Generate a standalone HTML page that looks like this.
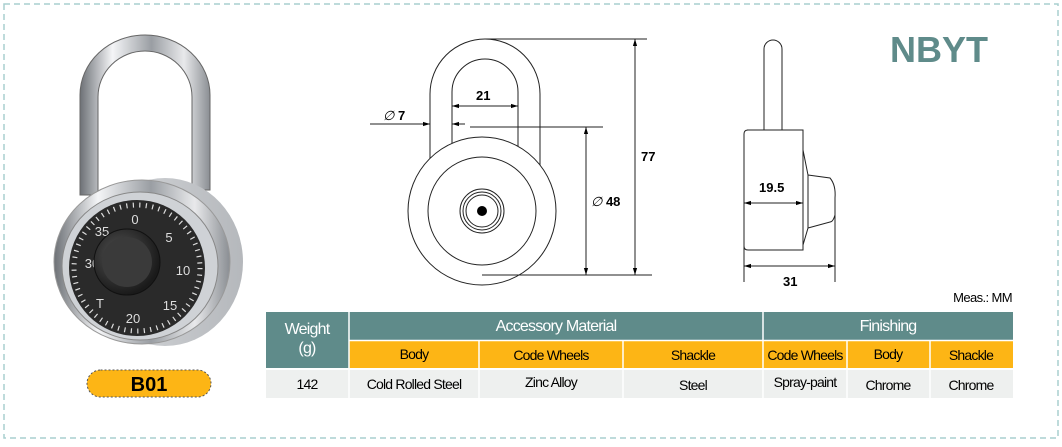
<!DOCTYPE html>
<html><head><meta charset="utf-8"><style>
html,body{margin:0;padding:0;background:#fff;}
body{width:1062px;height:442px;overflow:hidden;position:relative;font-family:"Liberation Sans",Arial,sans-serif;}
</style></head><body>
<svg width="1062" height="442" viewBox="0 0 1062 442" xmlns="http://www.w3.org/2000/svg" font-family="Liberation Sans, Arial, sans-serif">
<defs>
<linearGradient id="chr" x1="0" x2="1"><stop offset="0" stop-color="#6d7176"/><stop offset="0.25" stop-color="#f4f5f7"/><stop offset="0.55" stop-color="#9a9ea3"/><stop offset="0.8" stop-color="#e8e9eb"/><stop offset="1" stop-color="#8a8e93"/></linearGradient>
<linearGradient id="cyl" x1="0" x2="1"><stop offset="0" stop-color="#d8dadd"/><stop offset="1" stop-color="#b5b8bc"/></linearGradient>
<radialGradient id="knob" cx="0.4" cy="0.4" r="0.6"><stop offset="0" stop-color="#555"/><stop offset="1" stop-color="#1a1a1a"/></radialGradient>
<marker id="ar" viewBox="0 0 10 10" refX="10" refY="5" markerWidth="7" markerHeight="7" orient="auto-start-reverse"><path d="M0,2 L10,5 L0,8z" fill="#000"/></marker>
</defs>
<rect x="4" y="4" width="1054" height="434" fill="none" stroke="#a9cfcf" stroke-width="1.5" stroke-dasharray="6,4"/>

<!-- lock photo -->
<path d="M80,195 L80,95 A65,60 0 0 1 210,95 L210,190 L192,190 L192,97 A47,46 0 0 0 98,97 L98,195z" fill="url(#chr)" stroke="#666" stroke-width="1"/>
<ellipse cx="165" cy="262" rx="78" ry="84" fill="url(#cyl)"/>
<ellipse cx="142" cy="262" rx="88" ry="82" fill="url(#chr)" stroke="#999"/>
<ellipse cx="140" cy="266" rx="78" ry="74" fill="#cfd2d6" stroke="#888"/>
<circle cx="137" cy="268" r="68" fill="#2a2a2a"/>
<circle cx="137" cy="268" r="63" fill="none" stroke="#ddd" stroke-width="5" stroke-dasharray="1.2,5.3"/>
<g fill="#ddd" font-size="13" text-anchor="middle">
<text x="135" y="224">0</text><text x="169" y="242">5</text><text x="183" y="275">10</text><text x="170" y="310">15</text><text x="133" y="323">20</text><text x="100" y="308">T</text><text x="92" y="268">30</text><text x="102" y="236">35</text></g>
<circle cx="127" cy="262" r="33" fill="url(#knob)" stroke="#111"/>
<circle cx="127" cy="262" r="25" fill="#3a3a3a"/>
<rect x="87" y="370" width="124" height="27" rx="13.5" fill="#fdb515" stroke="#555" stroke-dasharray="2,2"/>
<text x="149" y="391" font-size="20" font-weight="bold" text-anchor="middle">B01</text>

<!-- front view -->
<g fill="none" stroke="#222" stroke-width="1">
<path d="M430,165 L430,94 A55,55 0 0 1 540,94 L540,165"/>
<path d="M452,150 L452,92 A33,33 0 0 1 518,92 L518,150"/>
<circle cx="482" cy="211" r="74" fill="#fff"/>
<circle cx="482" cy="211" r="54"/>
<circle cx="482" cy="211" r="22"/><circle cx="482" cy="211" r="19"/><circle cx="482" cy="211" r="16"/>
<line x1="485" y1="39" x2="647" y2="39"/><line x1="482" y1="275" x2="652" y2="275"/>
<line x1="470" y1="127" x2="603" y2="127"/>
<line x1="635" y1="39" x2="635" y2="275" marker-start="url(#ar)" marker-end="url(#ar)"/>
<line x1="586" y1="127" x2="586" y2="275" marker-start="url(#ar)" marker-end="url(#ar)"/>
<line x1="452" y1="106" x2="518" y2="106" marker-start="url(#ar)" marker-end="url(#ar)"/>
<line x1="370" y1="124" x2="430" y2="124" marker-end="url(#ar)"/>
<line x1="452" y1="124" x2="465" y2="124"/>
<line x1="465" y1="124" x2="452" y2="124" marker-end="url(#ar)"/>
</g>
<circle cx="482" cy="211" r="5" fill="#000"/>

<!-- side view -->
<g fill="none" stroke="#222" stroke-width="1">
<path d="M764,130 L764,49 A9,9 0 0 1 782,49 L782,130"/>
<path d="M747,130 L803,130 L803,250 L748,250 Q744,250 744,246 L744,134 Q744,130 748,130z" fill="#fff"/>
<path d="M803,150 L808,175 L808,228 L803,245"/>
<path d="M808,175 L830,178 Q836,185 835,198 L835,215 Q833,222 830,222 L808,228"/>
<line x1="744" y1="238" x2="744" y2="282"/><line x1="835" y1="200" x2="835" y2="282"/>
<line x1="744" y1="203" x2="803" y2="203" marker-start="url(#ar)" marker-end="url(#ar)"/>
<line x1="744" y1="266" x2="835" y2="266" marker-start="url(#ar)" marker-end="url(#ar)"/>
</g>
<g font-size="13" font-weight="bold">
<text x="476" y="100">21</text><text x="641" y="161">77</text>
<text x="383" y="120"><tspan font-weight="normal" font-style="italic">∅</tspan> 7</text>
<text x="591" y="206"><tspan font-weight="normal" font-style="italic">∅</tspan> 48</text>
<text x="759" y="192">19.5</text><text x="783" y="286">31</text>
</g>

<text x="890" y="62" font-size="36" font-weight="bold" fill="#5f8b8a">NBYT</text>
<text x="1012" y="302" font-size="13" text-anchor="end" letter-spacing="-0.6">Meas.: MM</text>

<!-- table -->
<g>
<rect x="266" y="312" width="747" height="28" fill="#5f8b8a"/>
<rect x="266" y="312" width="83" height="56" fill="#5f8b8a"/>
<rect x="349" y="341" width="664" height="27" fill="#fdb515"/>
<rect x="266" y="370" width="747" height="28" fill="#eef0ef"/>
<g stroke="#fff" stroke-width="1.5">
<line x1="349" y1="312" x2="349" y2="398"/><line x1="763" y1="312" x2="763" y2="398"/>
<line x1="479" y1="341" x2="479" y2="398"/><line x1="623" y1="341" x2="623" y2="398"/>
<line x1="847" y1="341" x2="847" y2="398"/><line x1="930" y1="341" x2="930" y2="398"/>
<line x1="349" y1="340.5" x2="1013" y2="340.5"/><line x1="266" y1="369" x2="1013" y2="369"/>
</g>
<g font-size="16" fill="#fff" text-anchor="middle" letter-spacing="-0.8">
<text x="307" y="334">Weight</text><text x="307" y="353">(g)</text>
<text x="556" y="331">Accessory Material</text><text x="888" y="331">Finishing</text></g>
<g font-size="14" fill="#000" text-anchor="middle" letter-spacing="-0.8">
<text x="414" y="359">Body</text><text x="551" y="360">Code Wheels</text><text x="693" y="360">Shackle</text>
<text x="805" y="360">Code Wheels</text><text x="888" y="359">Body</text><text x="971" y="360">Shackle</text>
<text x="307" y="389">142</text><text x="414" y="389">Cold Rolled Steel</text><text x="551" y="387">Zinc Alloy</text>
<text x="693" y="390">Steel</text><text x="805" y="387">Spray-paint</text><text x="888" y="390">Chrome</text><text x="971" y="390">Chrome</text>
</g>
</g>
</svg>
</body></html>
